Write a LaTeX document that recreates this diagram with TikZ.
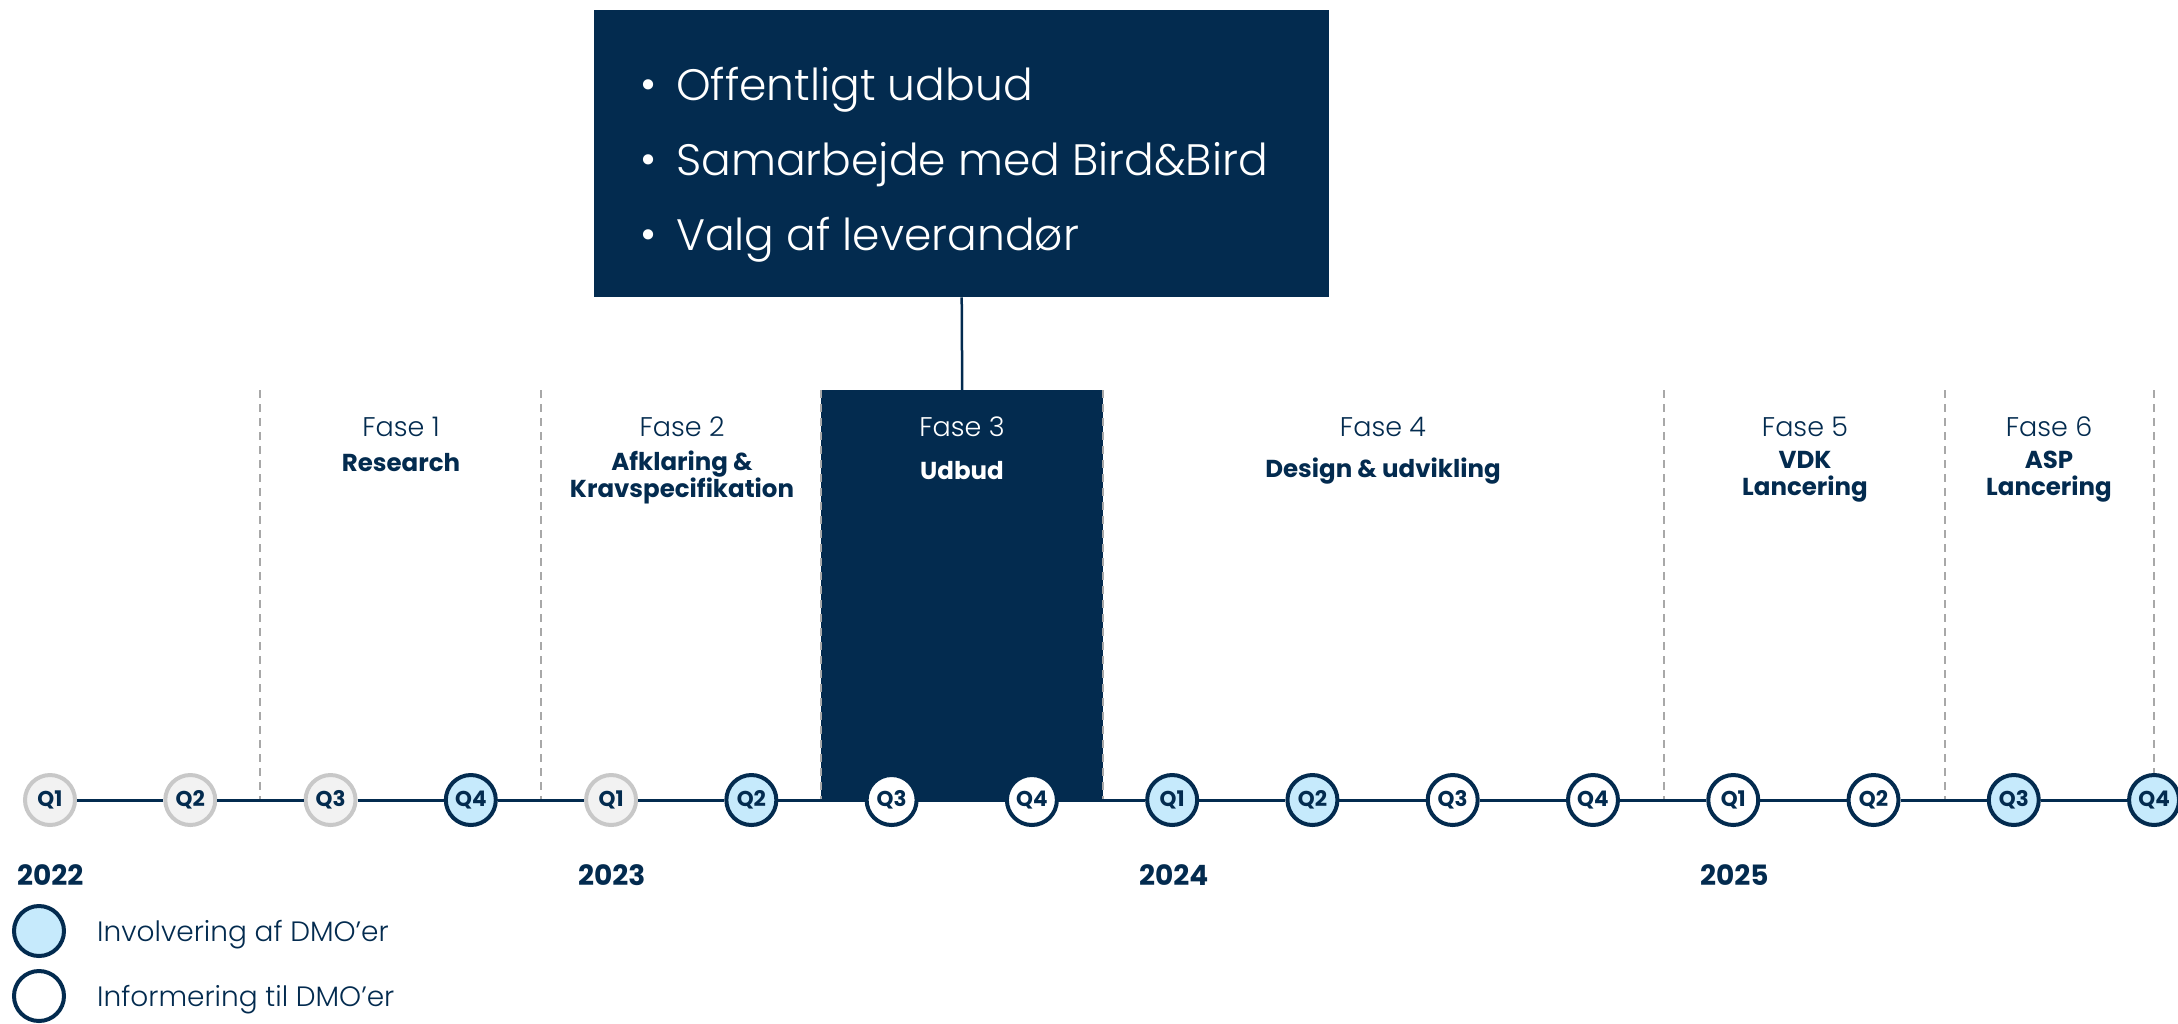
\documentclass[tikz,border=0pt]{standalone}
\usepackage{fontspec}
\setmainfont{Poppins}
\newfontfamily\lightf{Poppins Light}
\definecolor{navy}{HTML}{032B4F}
\definecolor{lblue}{HTML}{C6EAFC}
\definecolor{gbg}{HTML}{F2F2F2}
\definecolor{gline}{HTML}{C8C8C8}
\definecolor{dashc}{HTML}{A8A8A8}
\begin{document}
\begin{tikzpicture}[x=1pt,y=-1pt,
  qbase/.style={circle, minimum size=50pt, line width=4pt, inner sep=0pt, text=navy,
    font=\fontsize{21.5}{21.5}\selectfont\bfseries},
  qgray/.style={qbase, fill=gbg, draw=gline},
  qblue/.style={qbase, fill=lblue, draw=navy},
  qwhite/.style={qbase, fill=white, draw=navy},
  fasenum/.style={text=navy, font=\lightf\fontsize{27}{27}\selectfont, inner sep=0pt},
  fasetitle/.style={text=navy, font=\fontsize{24.5}{27}\selectfont\bfseries, align=center, inner sep=0pt},
  yearlbl/.style={text=navy, font=\fontsize{28}{28}\selectfont\bfseries, anchor=west, inner sep=0pt},
  legtxt/.style={text=navy, font=\lightf\fontsize{28}{28}\selectfont, anchor=west, inner sep=0pt},
  bullettxt/.style={text=white, font=\lightf\fontsize{44}{44}\selectfont, anchor=west, inner sep=0pt},
  phasesep/.style={draw=dashc, line width=1.5pt, dash pattern=on 8pt off 6pt},
  tline/.style={draw=navy, line width=3pt}
]
\useasboundingbox (0,0) rectangle (2178,1023);

% Fase 3 highlight box
\node[fill=navy, minimum width=282pt, minimum height=412pt, inner sep=0pt, anchor=north west] (f3box) at (821,390) {};

% phase separators
\foreach \x in {260,541,821,1103,1664,1945,2154}
  \draw[phasesep] (\x,390) -- (\x,800);

% top box
\node[fill=navy, minimum width=735pt, minimum height=287pt, inner sep=0pt, anchor=north west] (topbox) at (594,10) {};
\node[bullettxt] (d1) at (640,90) {•};
\node[bullettxt] (b1) at (676,90) {Offentligt udbud};
\node[bullettxt] (d2) at (640,165) {•};
\node[bullettxt] (b2) at (676,165) {Samarbejde med Bird\&Bird};
\node[bullettxt] (d3) at (640,240) {•};
\node[bullettxt] (b3) at (676,240) {Valg af leverandør};
\draw[navy, line width=2.5pt] (topbox.south) -- (f3box.north);

% phase labels
\node[fasenum] (fn1) at (401,427) {Fase 1};
\node[fasetitle] (ft1) at (401,463) {Research};
\node[fasenum] (fn2) at (682,427) {Fase 2};
\node[fasetitle] (ft2) at (682,477) {Afklaring \&\\Kravspecifikation};
\node[fasenum, text=white] (fn3) at (962,427) {Fase 3};
\node[fasetitle, text=white] (ft3) at (962,471) {Udbud};
\node[fasenum] (fn4) at (1383,427) {Fase 4};
\node[fasetitle] (ft4) at (1383,471) {Design \& udvikling};
\node[fasenum] (fn5) at (1805,427) {Fase 5};
\node[fasetitle] (ft5) at (1805,477) {VDK\\Lancering};
\node[fasenum] (fn6) at (2049,427) {Fase 6};
\node[fasetitle] (ft6) at (2049,477) {ASP\\Lancering};

% quarters
\foreach \i/\lbl/\st in {1/Q1/qgray,2/Q2/qgray,3/Q3/qgray,4/Q4/qblue,
  5/Q1/qgray,6/Q2/qblue,7/Q3/qwhite,8/Q4/qwhite,
  9/Q1/qblue,10/Q2/qblue,11/Q3/qwhite,12/Q4/qwhite,
  13/Q1/qwhite,14/Q2/qwhite,15/Q3/qblue,16/Q4/qblue}
  \node[\st] (q\i) at ({50+140.27*(\i-1)},800) {\lbl};
\foreach \i [evaluate=\i as \j using int(\i+1)] in {1,...,15}
  \draw[tline] (q\i) -- (q\j);

% years
\node[yearlbl] (y22) at (17,875) {2022};
\node[yearlbl] (y23) at (578,875) {2023};
\node[yearlbl] (y24) at (1139,875) {2024};
\node[yearlbl] (y25) at (1700,875) {2025};

% legend
\node[qblue] (leg1) at (39,931) {};
\node[legtxt] (lt1) at (97,935) {Involvering af DMO’er};
\node[qwhite] (leg2) at (39,996) {};
\node[legtxt] (lt2) at (97,1000) {Informering til DMO’er};
\end{tikzpicture}
\end{document}
